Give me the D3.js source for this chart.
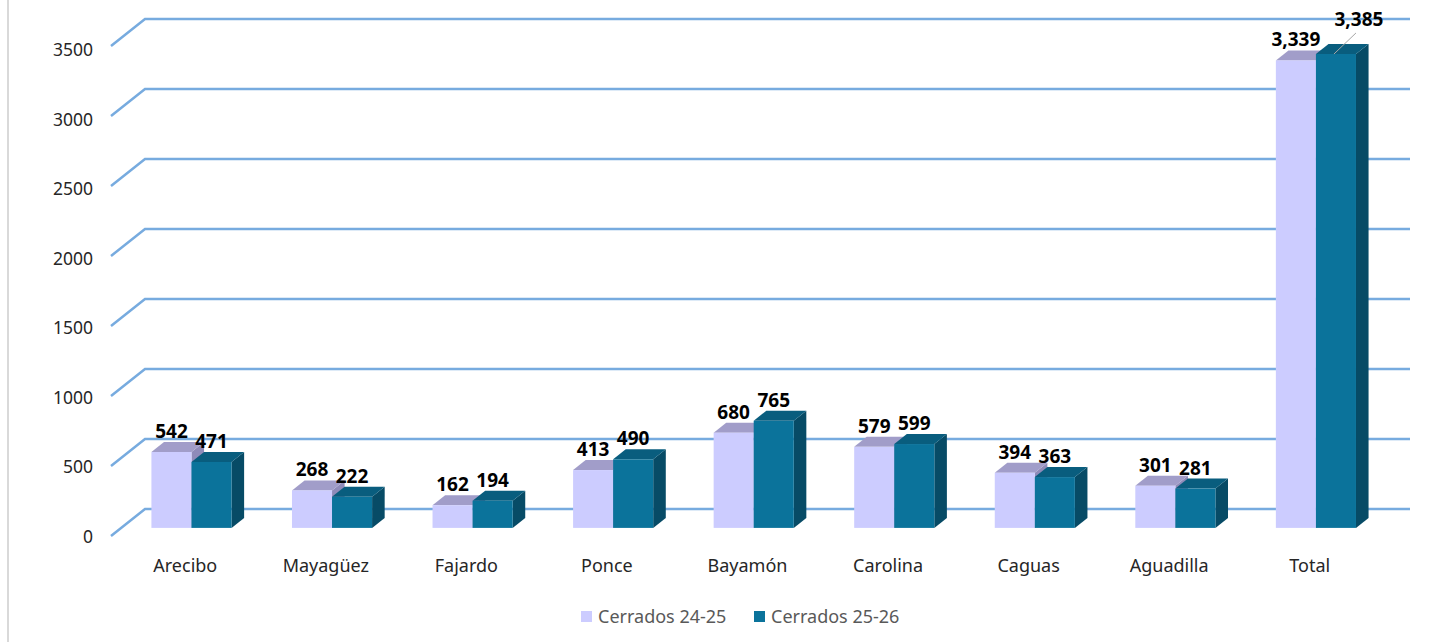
<!DOCTYPE html>
<html>
<head>
<meta charset="utf-8">
<script src="https://cdn.jsdelivr.net/npm/d3@7"></script>
<style>
  body { margin: 0; background: #fff; }
  svg { display: block; font-family: "Noto Sans", "Open Sans", sans-serif; }
</style>
</head>
<body>
<svg width="1448" height="642"></svg>
<script>
const categories = ['Arecibo', 'Mayagüez', 'Fajardo', 'Ponce', 'Bayamón', 'Carolina', 'Caguas', 'Aguadilla', 'Total'];
const seriesNames = ['Cerrados 24-25', 'Cerrados 25-26'];
const cerrados2425 = [542, 268, 162, 413, 680, 579, 394, 301, 3339];
const cerrados2526 = [471, 222, 194, 490, 765, 599, 363, 281, 3385];
const yTicks = [0, 500, 1000, 1500, 2000, 2500, 3000, 3500];

const svg = d3.select('svg');

// back wall of the 3d plot, depth pushes things down-left
const wall = { left: 145, right: 1410, top: 19, bottom: 509 };
const depth = { dx: -34, dy: 27 };
const proj = (x, y, t) => [x + depth.dx * t, y + depth.dy * t];

const colors = [
  { front: '#ccccff', top: '#a19dc9', side: '#8f8bb9' },
  { front: '#0b739b', top: '#095d7e', side: '#074b66' }
];

const xScale = d3.scaleBand()
  .domain(categories)
  .range([wall.left, wall.right])
  .paddingInner(0.43)
  .paddingOuter(0.215);

const xSub = d3.scaleBand()
  .domain(seriesNames)
  .range([0, xScale.bandwidth()]);

const yScale = d3.scaleLinear()
  .domain([0, 3500])
  .range([wall.bottom, wall.top]);

// tick labels sit on a slightly squashed front edge
const yLabel = d3.scaleLinear()
  .domain([0, 3500])
  .range([543, 56]);

// left border
svg.append('line')
  .attr('x1', 8).attr('x2', 8)
  .attr('y1', 0).attr('y2', 642)
  .attr('stroke', '#d9d9d9')
  .attr('stroke-width', 2);

// gridlines
const grid = svg.append('g');
yTicks.forEach(t => {
  const y = yScale(t);
  const f = proj(wall.left, y, 1);
  grid.append('polyline')
    .attr('points', `${f[0]},${f[1]} ${wall.left},${y} ${wall.right},${y}`)
    .attr('fill', 'none')
    .attr('stroke', '#77abdf')
    .attr('stroke-width', 2.5);
  grid.append('text')
    .attr('x', 93)
    .attr('y', yLabel(t))
    .attr('text-anchor', 'end')
    .attr('font-size', 17.5)
    .attr('fill', '#262626')
    .text(t);
});

// bars
const tFront = 0.70, tBack = 0.33;
const data = categories.map((c, i) => ({
  cat: c,
  values: [cerrados2425[i], cerrados2526[i]]
}));

const barsG = svg.append('g');
const labels = [];
data.forEach((d, ci) => {
  d.values.forEach((v, si) => {
    const x0 = xScale(d.cat) + xSub(seriesNames[si]);
    const x1 = x0 + xSub.bandwidth();
    const yTop = yScale(v), yBase = yScale(0);
    const ftl = proj(x0, yTop, tFront), ftr = proj(x1, yTop, tFront);
    const fbl = proj(x0, yBase, tFront), fbr = proj(x1, yBase, tFront);
    const btl = proj(x0, yTop, tBack), btr = proj(x1, yTop, tBack);
    const bbr = proj(x1, yBase, tBack);
    const col = colors[si];
    const g = barsG.append('g');
    g.append('polygon')
      .attr('points', [ftr, btr, bbr, fbr].join(' '))
      .attr('fill', col.side);
    g.append('polygon')
      .attr('points', [ftl, ftr, btr, btl].join(' '))
      .attr('fill', col.top);
    g.append('rect')
      .attr('x', ftl[0]).attr('y', ftl[1])
      .attr('width', x1 - x0)
      .attr('height', fbl[1] - ftl[1])
      .attr('fill', col.front);
    labels.push({ v, cx: (ftl[0] + ftr[0]) / 2, top: btl[1], frontTop: ftl[1], si, ci });
  });
});

// value labels
const fmt = d3.format(',');
const labG = svg.append('g');
labels.forEach(l => {
  let x = l.cx, y = l.top - 4;
  // Total's second label collides with the first one, excel pushes it up with a leader
  if (l.ci === categories.length - 1 && l.si === 1) {
    x = l.cx + 23;
    y = l.top - 18;
    labG.append('line')
      .attr('x1', l.cx - 2).attr('y1', l.frontTop)
      .attr('x2', x - 3).attr('y2', y + 7)
      .attr('stroke', '#a6a6a6')
      .attr('stroke-width', 1);
  }
  labG.append('text')
    .attr('x', x)
    .attr('y', y)
    .attr('text-anchor', 'middle')
    .attr('font-size', 19)
    .attr('font-weight', 'bold')
    .attr('fill', '#000')
    .text(fmt(l.v));
});

// category labels
svg.append('g').selectAll('text').data(categories)
  .enter().append('text')
    .attr('x', d => xScale(d) + xScale.bandwidth() / 2 + depth.dx + 4)
    .attr('y', 572)
    .attr('text-anchor', 'middle')
    .attr('font-size', 18)
    .attr('fill', '#262626')
    .text(d => d);

// legend
const legend = svg.append('g');
const legendX = [581, 754];
seriesNames.forEach((s, i) => {
  legend.append('rect')
    .attr('x', legendX[i]).attr('y', 611)
    .attr('width', 11).attr('height', 11)
    .attr('fill', colors[i].front);
  legend.append('text')
    .attr('x', legendX[i] + 17)
    .attr('y', 623)
    .attr('font-size', 18)
    .attr('fill', '#595959')
    .text(s);
});
</script>
</body>
</html>
